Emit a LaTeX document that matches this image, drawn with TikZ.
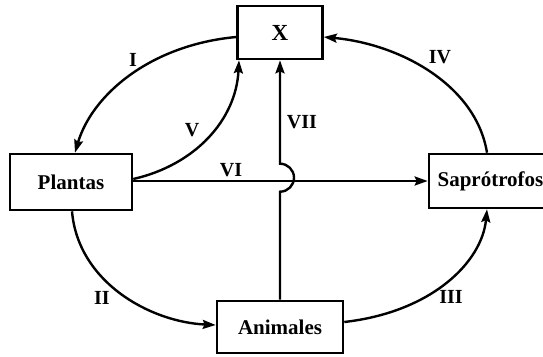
\documentclass[tikz,border=0pt]{standalone}
\usepackage{fontspec}
\setmainfont{Liberation Serif}
\usetikzlibrary{arrows.meta}
\begin{document}
\begin{tikzpicture}[x=1pt,y=-1pt,
  box/.style={draw,line width=2.6pt,rectangle,inner sep=0pt,
    font=\fontsize{21}{25}\selectfont\bfseries},
  flow/.style={line width=2.4pt,-{Stealth[length=13pt,width=9pt,inset=2pt]}},
  lbl/.style={font=\fontsize{20}{24}\selectfont\bfseries,inner sep=0pt}]
\useasboundingbox[fill=white] (0,0) rectangle (543,356);

% compartments
\node[box,minimum width=85pt,minimum height=53pt] (X) at (280,32.5) {\fontsize{23}{27}\selectfont X};
\node[box,minimum width=122pt,minimum height=56pt] (P) at (71,182) {Plantas};
\node[box,minimum width=126pt,minimum height=52pt] (A) at (280,327) {Animales};
\node[box,minimum width=123pt,minimum height=54pt] (S) at (490.5,181) {Saprótrofos};

% flows between compartments
\draw[flow] ([yshift=-4.5pt]X.west) .. controls (150,45) and (92,95) .. ([xshift=4pt]P.north);
\draw[flow] ([yshift=3pt]P.east) .. controls (195,165) and (236,120) .. ([xshift=-41pt]X.south);
\draw[flow] ([yshift=1pt]P.east) -- ([yshift=1pt]P.east -| S.west);
% VII hops over VI
\draw[flow] (A.north) -- ++(0,-108) arc[start angle=90,end angle=-90,radius=14] -- (X.south);
\draw[flow] ([xshift=1pt]P.south) .. controls (78,282) and (150,322) .. ([yshift=2pt]A.west);
\draw[flow] ([yshift=5pt]A.east) .. controls (432,312) and (482,262) .. ([xshift=-3.5pt]S.south);
\draw[flow] ([xshift=-3.5pt]S.north) .. controls (476,85) and (400,44) .. ([yshift=-4.5pt]X.east);

% flow labels
\node[lbl] (lI) at (133,60) {I};
\node[lbl] (lII) at (102,298) {II};
\node[lbl] (lIII) at (451,297) {III};
\node[lbl] (lIV) at (440,57) {IV};
\node[lbl] (lV) at (192,130) {V};
\node[lbl] (lVI) at (231,170) {VI};
\node[lbl] (lVII) at (302,122) {VII};
\end{tikzpicture}
\end{document}
